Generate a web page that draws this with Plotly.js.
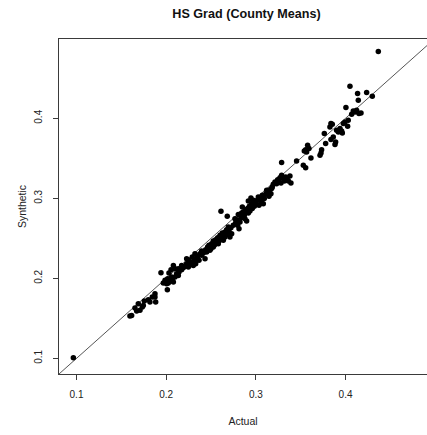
<!DOCTYPE html>
<html>
<head>
<meta charset="utf-8">
<script src="https://cdn.plot.ly/plotly-3.0.1.min.js"></script>
<style>
  html, body { margin: 0; padding: 0; background: #fff; }
  #chart { width: 427px; height: 435px; }
</style>
</head>
<body>
<div id="chart"></div>
<script>
// County-level high-school graduation share: actual vs. synthetic estimate
const actual = [
  0.0965, 0.1596, 0.1615, 0.1671, 0.1652, 0.1689, 0.1734, 0.1756, 0.1745, 0.1819,
  0.1845, 0.1875, 0.1883, 0.1801, 0.2013, 0.1942, 0.1968, 0.1987, 0.2016, 0.2042,
  0.2068, 0.2080, 0.2031, 0.2054, 0.2080, 0.2098, 0.2117, 0.2135, 0.2143, 0.2172,
  0.2191, 0.2210, 0.2228, 0.2247, 0.2265, 0.2284, 0.2291, 0.2314, 0.2329, 0.2340,
  0.2351, 0.2366, 0.2377, 0.2395, 0.2414, 0.2433, 0.2440, 0.2462, 0.2477, 0.2499,
  0.2507, 0.2525, 0.2537, 0.2551, 0.2563, 0.2574, 0.2589, 0.2600, 0.2618, 0.2626,
  0.2637, 0.2656, 0.2674, 0.2685, 0.2700, 0.2711, 0.2722, 0.2611, 0.2681, 0.2321,
  0.2247, 0.2172, 0.2098, 0.2005, 0.2748, 0.2774, 0.2786, 0.2804, 0.2812, 0.2823,
  0.2834, 0.2841, 0.2860, 0.2871, 0.2886, 0.2897, 0.2908, 0.2916, 0.2927, 0.2934,
  0.2945, 0.2953, 0.2960, 0.2983, 0.2990, 0.3001, 0.3020, 0.3035, 0.3046, 0.3057,
  0.3072, 0.3083, 0.3094, 0.3109, 0.3131, 0.3146, 0.3157, 0.3168, 0.3183, 0.3194,
  0.3213, 0.3231, 0.3243, 0.3257, 0.3269, 0.3280, 0.3287, 0.3306, 0.3317, 0.3332,
  0.3354, 0.3380, 0.3391, 0.3287, 0.2878, 0.2797, 0.2849, 0.2916, 0.3454, 0.3529,
  0.3555, 0.3540, 0.3555, 0.3577, 0.3592, 0.3614, 0.3566, 0.3715, 0.3726, 0.3733,
  0.3763, 0.3778, 0.3826, 0.3837, 0.3852, 0.3837, 0.3863, 0.3882, 0.3900, 0.3919,
  0.3938, 0.3956, 0.3964, 0.3975, 0.3993, 0.4023, 0.4030, 0.3889, 0.4004, 0.4068,
  0.4086, 0.4105, 0.4123, 0.4149, 0.4172, 0.4142, 0.4049, 0.4134, 0.4235, 0.4298,
  0.4365, 0.2395, 0.2451, 0.2488, 0.2525, 0.2581, 0.2637, 0.2656, 0.2730, 0.2693,
  0.2767, 0.2841, 0.2971, 0.3027, 0.3064, 0.3120, 0.3176, 0.2302, 0.2228, 0.2135,
  0.2061, 0.2024, 0.1875, 0.1708, 0.3362
];
const synthetic = [
  0.1008, 0.1529, 0.1537, 0.1591, 0.1629, 0.1683, 0.1641, 0.1716, 0.1662, 0.1704,
  0.1766, 0.1808, 0.1704, 0.1733, 0.1858, 0.2071, 0.1941, 0.1975, 0.1996, 0.1966,
  0.1983, 0.1954, 0.2066, 0.2108, 0.2162, 0.2121, 0.2058, 0.2037, 0.2079, 0.2108,
  0.2133, 0.2150, 0.2246, 0.2141, 0.2183, 0.2204, 0.2266, 0.2225, 0.2183, 0.2246,
  0.2275, 0.2225, 0.2308, 0.2341, 0.2316, 0.2246, 0.2358, 0.2391, 0.2412, 0.2371,
  0.2433, 0.2466, 0.2412, 0.2483, 0.2441, 0.2508, 0.2466, 0.2537, 0.2496, 0.2566,
  0.2525, 0.2579, 0.2608, 0.2550, 0.2591, 0.2516, 0.2633, 0.2837, 0.2775, 0.2308,
  0.2225, 0.2162, 0.2016, 0.1933, 0.2662, 0.2691, 0.2733, 0.2796, 0.2621, 0.2704,
  0.2758, 0.2816, 0.2829, 0.2787, 0.2850, 0.2716, 0.2871, 0.2816, 0.2900, 0.2841,
  0.3004, 0.2925, 0.2871, 0.2900, 0.2954, 0.2925, 0.2975, 0.2912, 0.2996, 0.2941,
  0.3037, 0.2933, 0.2996, 0.3050, 0.3079, 0.3025, 0.3108, 0.3058, 0.3142, 0.3175,
  0.3204, 0.3183, 0.3233, 0.3204, 0.3258, 0.3192, 0.3287, 0.3246, 0.3217, 0.3267,
  0.3225, 0.3279, 0.3192, 0.3446, 0.2746, 0.2662, 0.2891, 0.2966, 0.3467, 0.3412,
  0.3383, 0.3592, 0.3608, 0.3662, 0.3621, 0.3504, 0.3579, 0.3537, 0.3566, 0.3608,
  0.3808, 0.3683, 0.3892, 0.3933, 0.3925, 0.3733, 0.3767, 0.3671, 0.3850, 0.3829,
  0.3871, 0.3842, 0.3817, 0.3933, 0.3954, 0.3900, 0.3975, 0.3704, 0.4133, 0.4050,
  0.4092, 0.4079, 0.4100, 0.4058, 0.4067, 0.4225, 0.4400, 0.4308, 0.4321, 0.4275,
  0.4833, 0.2287, 0.2329, 0.2350, 0.2391, 0.2433, 0.2475, 0.2516, 0.2558, 0.2641,
  0.2746, 0.2766, 0.2975, 0.3017, 0.2975, 0.3100, 0.3121, 0.2162, 0.2183, 0.2121,
  0.2016, 0.1941, 0.1766, 0.1600, 0.3217
];
const tickValues = [0.1, 0.2, 0.3, 0.4];
const tickLabels = ['0.1', '0.2', '0.3', '0.4'];
const xRange = [0.0805, 0.4908];
const yRange = [0.0805, 0.499];

const fontFamily = '"Liberation Sans", Arial, Helvetica, sans-serif';
const axisColor = '#3a3a3a';

const points = {
  type: 'scatter',
  mode: 'markers',
  x: actual,
  y: synthetic,
  marker: { color: '#000', size: 5.5, line: { width: 0 } },
  hoverinfo: 'x+y',
  showlegend: false
};

// 45-degree reference line (synthetic = actual) across the plotting region
const identity = {
  type: 'scatter',
  mode: 'lines',
  x: [xRange[0], yRange[1]],
  y: [xRange[0], yRange[1]],
  line: { color: '#555', width: 1 },
  hoverinfo: 'skip',
  showlegend: false
};

const axisBase = {
  showgrid: false,
  zeroline: false,
  showline: true,
  linecolor: axisColor,
  linewidth: 1,
  ticks: 'outside',
  ticklen: 5,
  tickwidth: 1,
  tickcolor: axisColor,
  tickvals: tickValues,
  ticktext: tickLabels,
  tickfont: { family: fontFamily, size: 10, color: '#222' },
  fixedrange: true
};

const layout = {
  width: 427,
  height: 435,
  paper_bgcolor: '#fff',
  plot_bgcolor: '#fff',
  margin: { l: 59, r: 0, t: 39, b: 61 },
  title: {
    text: '<b>HS Grad (County Means)</b>',
    font: { family: fontFamily, size: 12.6, color: '#111' },
    xref: 'container', x: 246.5 / 427, xanchor: 'center',
    yref: 'container', y: 1 - 14 / 435, yanchor: 'middle'
  },
  xaxis: Object.assign({}, axisBase, {
    range: xRange,
    mirror: true,
    ticklabelstandoff: 6,
    title: { text: 'Actual', font: { family: fontFamily, size: 10.5, color: '#222' }, standoff: 18 }
  }),
  yaxis: Object.assign({}, axisBase, {
    range: yRange,
    tickangle: -90,
    ticklabelstandoff: 7,
    title: { text: 'Synthetic', font: { family: fontFamily, size: 10.5, color: '#222' }, standoff: 4 }
  }),
  showlegend: false
};

Plotly.newPlot('chart', [identity, points], layout, { displayModeBar: false, staticPlot: true });
</script>
</body>
</html>
